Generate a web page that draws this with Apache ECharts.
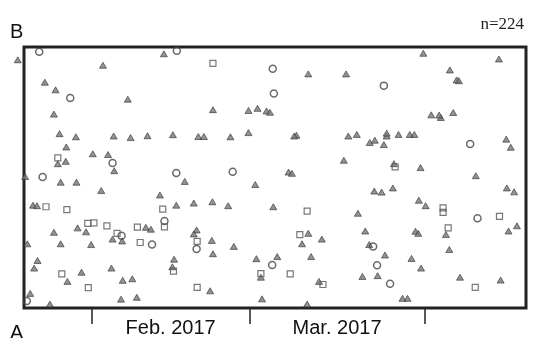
<!DOCTYPE html>
<html>
<head>
<meta charset="utf-8">
<script src="https://cdn.jsdelivr.net/npm/echarts@6/dist/echarts.min.js"></script>
<style>
  html, body { margin: 0; padding: 0; background: #fff; }
  #main { width: 533px; height: 338px; }
</style>
</head>
<body>
<div id="main"></div>
<script>
// x = day of year (Jan 1 = 0), y = position between A (0) and B (100)
var tickDays = [31, 59, 90];
var monthDays = [45, 74.5];
var monthNames = ['Feb. 2017', 'Mar. 2017'];

var triangles = [
  [17.9, 95.1], [43.8, 97.4], [33.0, 93.0], [22.7, 86.5], [24.6, 83.6], [37.4, 80.0],
  [24.3, 74.3], [25.3, 66.8], [28.2, 65.6], [34.9, 65.9], [37.9, 65.3], [40.9, 66.0],
  [45.4, 66.4], [26.5, 61.7], [31.2, 59.1], [33.9, 58.8], [26.4, 56.2], [25.0, 55.3],
  [35.0, 52.6], [19.2, 50.4], [52.5, 76.0], [69.4, 89.7], [76.1, 89.7], [58.8, 75.7],
  [60.4, 76.5], [62.0, 75.5], [62.6, 75.0], [49.9, 65.7], [50.9, 65.7], [55.6, 65.6],
  [58.8, 67.2], [67.3, 66.2], [66.9, 65.9], [76.5, 65.9], [78.0, 66.5], [75.7, 56.6],
  [65.9, 52.1], [66.5, 51.6], [89.8, 97.6], [103.2, 95.4], [94.5, 91.2], [95.7, 87.4],
  [96.1, 87.1], [91.2, 74.0], [92.9, 73.0], [92.6, 73.9], [95.1, 74.9], [80.3, 63.4],
  [81.2, 64.3], [82.8, 62.6], [83.3, 65.9], [83.3, 67.0], [85.4, 66.5], [87.4, 66.5],
  [88.2, 66.5], [104.5, 64.7], [105.3, 61.6], [84.6, 55.3], [89.3, 53.8], [99.1, 50.7],
  [25.5, 48.2], [28.3, 48.2], [47.5, 48.5], [32.7, 45.0], [43.1, 43.3], [20.6, 39.4],
  [21.3, 39.2], [46.0, 39.4], [24.3, 29.0], [28.5, 30.7], [30.0, 29.2], [40.6, 30.9],
  [41.5, 30.2], [19.6, 24.6], [25.5, 24.6], [30.9, 24.3], [34.7, 26.4], [36.4, 25.7],
  [21.4, 18.2], [20.8, 15.3], [29.2, 13.7], [26.7, 10.2], [34.5, 15.3], [36.5, 10.6],
  [38.2, 11.2], [45.6, 18.7], [45.3, 15.8], [20.1, 5.6], [36.2, 3.4], [39.0, 4.1],
  [23.6, 1.5], [60.0, 47.3], [49.1, 40.2], [52.4, 40.7], [55.2, 39.2], [63.2, 38.8],
  [78.2, 36.3], [49.6, 29.9], [49.1, 28.4], [52.3, 25.9], [56.2, 23.6], [52.5, 20.8],
  [69.4, 28.6], [71.8, 26.4], [68.3, 24.6], [60.2, 18.9], [63.9, 19.7], [69.9, 19.7],
  [61.0, 11.8], [71.3, 10.2], [52.0, 6.6], [61.2, 3.5], [69.2, 1.5], [81.1, 44.8],
  [82.4, 44.4], [84.4, 46.0], [104.6, 46.0], [105.9, 44.5], [89.0, 41.3], [90.2, 39.2],
  [79.5, 29.5], [88.4, 29.4], [88.9, 28.6], [93.8, 28.2], [104.9, 29.5], [106.4, 31.5],
  [80.2, 24.3], [83.0, 20.3], [94.4, 22.4], [87.7, 19.0], [89.4, 15.3], [79.0, 12.1],
  [81.7, 12.4], [96.3, 11.8], [103.5, 10.7], [86.1, 3.7], [87.0, 3.7]
];

var circles = [
  [21.7, 98.2], [46.1, 98.6], [27.2, 80.5], [34.7, 55.6], [46.0, 51.7], [22.3, 50.2],
  [63.1, 91.7], [63.3, 82.2], [56.0, 52.2], [82.8, 85.2], [98.1, 62.8], [43.9, 33.3],
  [41.7, 24.3], [36.3, 27.7], [49.6, 22.6], [63.0, 16.5], [99.4, 34.4], [80.9, 23.6],
  [81.6, 16.4], [83.9, 9.3], [19.5, 2.7]
];

var squares = [
  [52.5, 93.7], [25.0, 57.5], [22.9, 38.8], [26.6, 37.7], [43.6, 37.9], [30.3, 32.4],
  [31.4, 32.6], [33.7, 31.5], [39.1, 31.0], [43.9, 31.1], [35.5, 28.6], [39.6, 25.1],
  [25.7, 13.1], [45.5, 14.1], [30.4, 7.8], [69.2, 37.1], [49.7, 25.5], [67.9, 28.1],
  [61.0, 13.2], [66.2, 13.1], [72.0, 9.0], [49.7, 7.9], [84.8, 54.1], [93.3, 38.4],
  [93.3, 36.6], [103.3, 35.1], [94.2, 30.7], [99.0, 7.9]
];

var myChart = echarts.init(document.getElementById('main'));

var option = {
  animation: false,
  backgroundColor: '#fff',
  grid: {
    left: 24,
    right: 7,
    top: 47,
    bottom: 23,
    show: true,
    borderColor: '#222',
    borderWidth: 3
  },
  xAxis: {
    type: 'value',
    min: 19,
    max: 108,
    axisLine: { show: false },
    splitLine: { show: false },
    axisTick: {
      show: true,
      inside: false,
      length: 16,
      customValues: tickDays,
      lineStyle: { color: '#222', width: 1.5 }
    },
    axisLabel: {
      customValues: monthDays,
      margin: 10,
      color: '#111',
      fontSize: 20,
      fontFamily: 'Liberation Sans',
      formatter: function (v) {
        var i = monthDays.indexOf(v);
        return i >= 0 ? monthNames[i] : '';
      }
    }
  },
  yAxis: {
    type: 'value',
    min: 0,
    max: 100,
    show: false
  },
  graphic: [
    { type: 'text', left: 10, top: 22, style: { text: 'B', font: '20px Liberation Sans', fill: '#111' } },
    { type: 'text', left: 10, top: 323, style: { text: 'A', font: '20px Liberation Sans', fill: '#111' } },
    { type: 'text', right: 9, top: 16, style: { text: 'n=224', font: '17px Liberation Serif', fill: '#222' } }
  ],
  series: [
    {
      type: 'scatter',
      data: triangles,
      clip: false,
      symbol: 'triangle',
      symbolSize: [7, 6],
      itemStyle: { color: '#777', borderColor: '#333', borderWidth: 0.8 }
    },
    {
      type: 'scatter',
      data: circles,
      clip: false,
      symbol: 'circle',
      symbolSize: 7,
      itemStyle: { color: 'rgba(255,255,255,0)', borderColor: '#444', borderWidth: 1.5 }
    },
    {
      type: 'scatter',
      data: squares,
      clip: false,
      symbol: 'rect',
      symbolSize: 6,
      itemStyle: { color: 'rgba(255,255,255,0)', borderColor: '#555', borderWidth: 1.2 }
    }
  ]
};
myChart.setOption(option);
</script>
</body>
</html>
